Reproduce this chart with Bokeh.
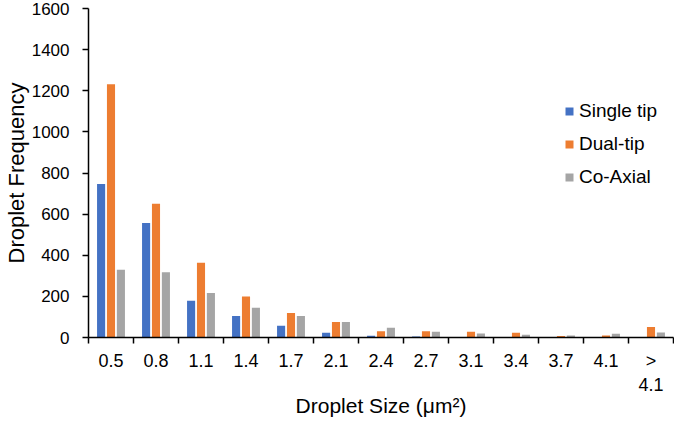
from bokeh.plotting import figure
from bokeh.models import Range1d, FixedTicker, Legend, LegendItem, ColumnDataSource
from bokeh.embed import file_html
from bokeh.resources import INLINE
import numpy as np

categories = ["0.5", "0.8", "1.1", "1.4", "1.7", "2.1", "2.4", "2.7", "3.1", "3.4", "3.7", "4.1", ">\n4.1"]
single_tip = [747, 557, 179, 104, 57, 23, 8, 5, 0, 0, 0, 0, 0]
dual_tip = [1232, 651, 363, 200, 119, 75, 31, 31, 28, 23, 7, 10, 51]
co_axial = [329, 317, 216, 145, 104, 75, 47, 28, 20, 13, 10, 18, 24]
series_names = ["Single tip", "Dual-tip", "Co-Axial"]
colors = ["#4472C4", "#ED7D31", "#A5A5A5"]
y_ticks = [0, 200, 400, 600, 800, 1000, 1200, 1400, 1600]

FONT = "Liberation Sans"
n = len(categories)
centers = np.arange(n) + 0.5

p = figure(width=674, height=419, output_backend="svg", toolbar_location=None,
           x_range=Range1d(0, n), y_range=Range1d(0, 1600),
           min_border_left=84, min_border_right=1, min_border_top=8, min_border_bottom=5)
p.outline_line_color = None
p.xgrid.visible = False
p.ygrid.visible = False
p.background_fill_color = "white"
p.border_fill_color = "white"

offsets = [-0.22, 0.0, 0.22]
renderers = []
for vals, off, col in zip([single_tip, dual_tip, co_axial], offsets, colors):
    src = ColumnDataSource(dict(x=centers + off, top=vals))
    r = p.vbar(x="x", top="top", width=0.18, bottom=0, source=src,
               fill_color=col, line_color=None)
    renderers.append(r)

xa = p.xaxis[0]
xa.ticker = FixedTicker(ticks=list(centers), minor_ticks=list(range(n + 1)))
xa.major_label_overrides = {float(c): lab for c, lab in zip(centers, categories)}
xa.major_tick_out = 0
xa.major_tick_in = 0
xa.minor_tick_out = 6
xa.minor_tick_in = 0
xa.minor_tick_line_color = "black"
xa.minor_tick_line_width = 1.5
xa.axis_line_color = "black"
xa.axis_line_width = 1.5
xa.major_label_text_font = FONT
xa.major_label_text_font_size = "18px"
xa.major_label_text_color = "black"
xa.major_label_standoff = 7
xa.axis_label = "Droplet Size (μm²)"
xa.axis_label_text_font = FONT
xa.axis_label_text_font_size = "21px"
xa.axis_label_text_font_style = "normal"
xa.axis_label_text_color = "black"
xa.axis_label_standoff = -4

ya = p.yaxis[0]
ya.ticker = FixedTicker(ticks=y_ticks)
ya.major_tick_out = 6
ya.major_tick_in = 0
ya.minor_tick_out = 0
ya.minor_tick_in = 0
ya.major_tick_line_color = "black"
ya.major_tick_line_width = 1.5
ya.axis_line_color = "black"
ya.axis_line_width = 1.5
ya.major_label_text_font = FONT
ya.major_label_text_font_size = "17px"
ya.major_label_text_color = "black"
ya.major_label_standoff = 13
ya.axis_label = "Droplet Frequency"
ya.axis_label_text_font = FONT
ya.axis_label_text_font_size = "22px"
ya.axis_label_text_font_style = "normal"
ya.axis_label_text_color = "black"
ya.axis_label_standoff = 0

legend = Legend(items=[LegendItem(label=nm, renderers=[r]) for nm, r in zip(series_names, renderers)],
                location=(476, 149), orientation="vertical")
legend.label_text_font = FONT
legend.label_text_font_size = "19px"
legend.label_text_color = "black"
legend.glyph_width = 10
legend.glyph_height = 10
legend.label_height = 20
legend.spacing = 11
legend.label_standoff = 5
legend.padding = 0
legend.margin = 0
legend.border_line_color = None
legend.background_fill_alpha = 0
p.add_layout(legend)

open("out.html", "w").write(file_html(p, INLINE))
